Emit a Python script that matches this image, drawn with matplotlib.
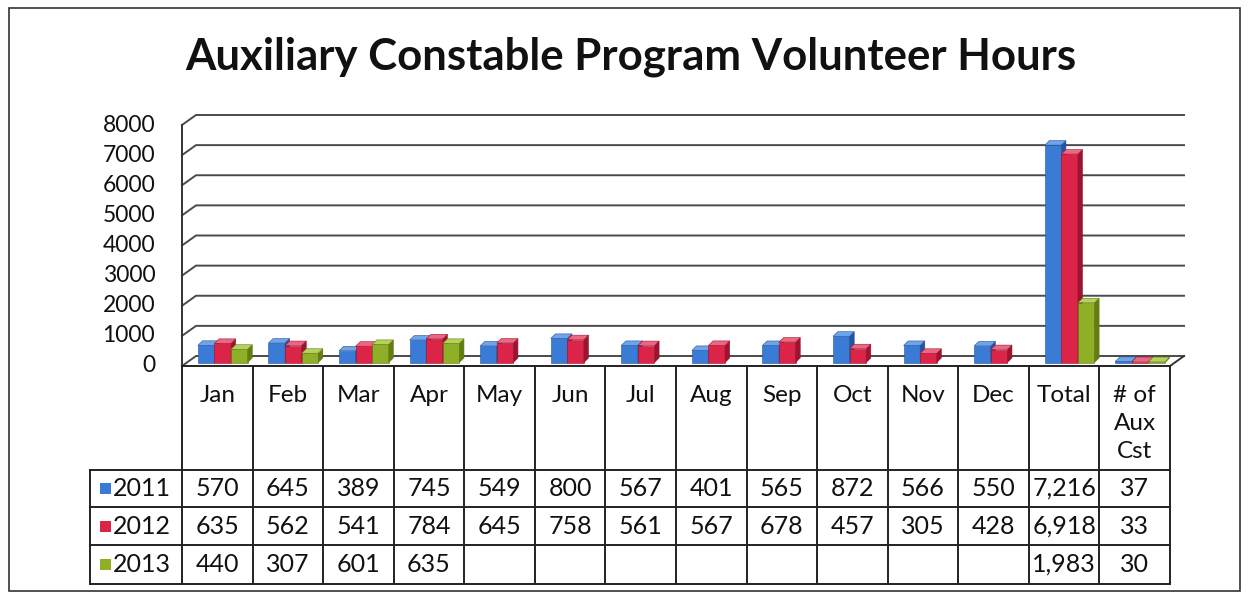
import numpy as np
import matplotlib.pyplot as plt
from matplotlib.patches import Polygon, Rectangle

plt.rcParams['font.family'] = ['Lato', 'DejaVu Sans']

categories = ["Jan", "Feb", "Mar", "Apr", "May", "Jun", "Jul", "Aug", "Sep",
              "Oct", "Nov", "Dec", "Total", "# of\nAux\nCst"]
series = ["2011", "2012", "2013"]
hours_2011 = [570, 645, 389, 745, 549, 800, 567, 401, 565, 872, 566, 550, 7216, 37]
hours_2012 = [635, 562, 541, 784, 645, 758, 561, 567, 678, 457, 305, 428, 6918, 33]
hours_2013 = [440, 307, 601, 635, None, None, None, None, None, None, None, None, 1983, 30]
yticks = [0, 1000, 2000, 3000, 4000, 5000, 6000, 7000, 8000]

colors = ["#3a7bd6", "#dc2449", "#8fb026"]
sides = ["#2453a0", "#9c1530", "#637c14"]
tops = ["#6fa3ea", "#ee6680", "#b5d25a"]

W, H = 1249, 594
fig = plt.figure(figsize=(W / 100, H / 100), dpi=100)


def fx(px):
    return px / W


def fy(py):
    return 1 - py / H


# overlay in pixel coordinates for the frame and title
over = fig.add_axes([0, 0, 1, 1])
over.set_xlim(0, W)
over.set_ylim(H, 0)
over.axis("off")
over.add_patch(Rectangle((9, 8), 1231, 583, fill=False, ec="#333333", lw=1.2))
over.text(631, 57, "Auxiliary Constable Program Volunteer Hours", ha="center",
          va="center", fontsize=31.5, fontweight="bold", color="#111111")

# bar chart axes
x_left, x_right, y_top, y_bot = 182, 1170, 125, 366
ax = fig.add_axes([fx(x_left), fy(y_bot), fx(x_right - x_left), (y_bot - y_top) / H])
ax.set_xlim(0, len(categories))
ax.set_ylim(0, 8000)
ax.axis("off")

# wall depth in data units
wdx = 14 / ((x_right - x_left) / len(categories))
wdy = 10 * 8000 / (y_bot - y_top)

for v in yticks:
    ax.plot([0, wdx, len(categories) + wdx], [v, v + wdy, v + wdy],
            color="#4a4a4a", lw=1.4, clip_on=False, zorder=1)
ax.plot([0, 0], [0, 8000], color="#333333", lw=1.4, clip_on=False, zorder=1)
ax.plot([len(categories), len(categories) + wdx], [0, wdy], color="#333333",
        lw=1.4, clip_on=False, zorder=1)

for v in yticks:
    ax.text(-0.38, v, str(v), ha="right", va="center", fontsize=16.5, color="#111111")

bw = 0.235
off = 0.225
bdx, bdy = wdx * 0.3, wdy * 0.35
ddx, ddy = wdx * 0.33, wdy * 0.45
data = [hours_2011, hours_2012, hours_2013]
z = 2
for s, vals in enumerate(data):
    for i, v in enumerate(vals):
        if v is None:
            continue
        x0 = i + off + s * bw
        b = bdy
        ax.bar(x0, v, width=bw, bottom=b, align="edge", color=colors[s],
               edgecolor=sides[s], lw=0.4, zorder=z, clip_on=False)
        ax.add_patch(Polygon([(x0 + bw, b), (x0 + bw + ddx, b + ddy),
                              (x0 + bw + ddx, b + v + ddy), (x0 + bw, b + v)],
                             closed=True, fc=sides[s], ec=sides[s], lw=0.4,
                             zorder=z, clip_on=False))
        ax.add_patch(Polygon([(x0, b + v), (x0 + bw, b + v),
                              (x0 + bw + ddx, b + v + ddy), (x0 + ddx, b + v + ddy)],
                             closed=True, fc=tops[s], ec=sides[s], lw=0.4,
                             zorder=z, clip_on=False))
        z += 1

# data table below the chart
tb = fig.add_axes([fx(x_left), fy(584), fx(x_right - x_left), (584 - y_bot) / H])
tb.set_xlim(0, len(categories))
tb.set_ylim(584, y_bot)
tb.axis("off")

lead = -92 / ((x_right - x_left) / len(categories))
row_lines = [470, 507, 545, 584]
lc = "#222222"
tb.plot([0, len(categories)], [y_bot, y_bot], color=lc, lw=1.4, clip_on=False)
for yl in row_lines:
    tb.plot([lead, len(categories)], [yl, yl], color=lc, lw=1.4, clip_on=False)
for i in range(len(categories) + 1):
    tb.plot([i, i], [y_bot, 584], color=lc, lw=1.4, clip_on=False)
tb.plot([lead, lead], [470, 584], color=lc, lw=1.4, clip_on=False)

for i, c in enumerate(categories):
    tb.text(i + 0.5, 385, c, ha="center", va="top", fontsize=17.5,
            linespacing=1.42, color="#111111")

row_mid = [488.5, 526, 564.5]
for s, vals in enumerate(data):
    ym = row_mid[s]
    tb.add_patch(Rectangle((lead + 0.14, ym - 5.5), 0.16, 11, fc=colors[s],
                           ec="none", clip_on=False))
    tb.text(lead + 0.33, ym, series[s], ha="left", va="center", fontsize=18,
            color="#111111")
    for i, v in enumerate(vals):
        if v is None:
            continue
        txt = f"{v:,}" if v >= 1000 else str(v)
        tb.text(i + 0.5, ym, txt, ha="center", va="center", fontsize=18,
                color="#111111")

fig.savefig("out.png", dpi=100)
